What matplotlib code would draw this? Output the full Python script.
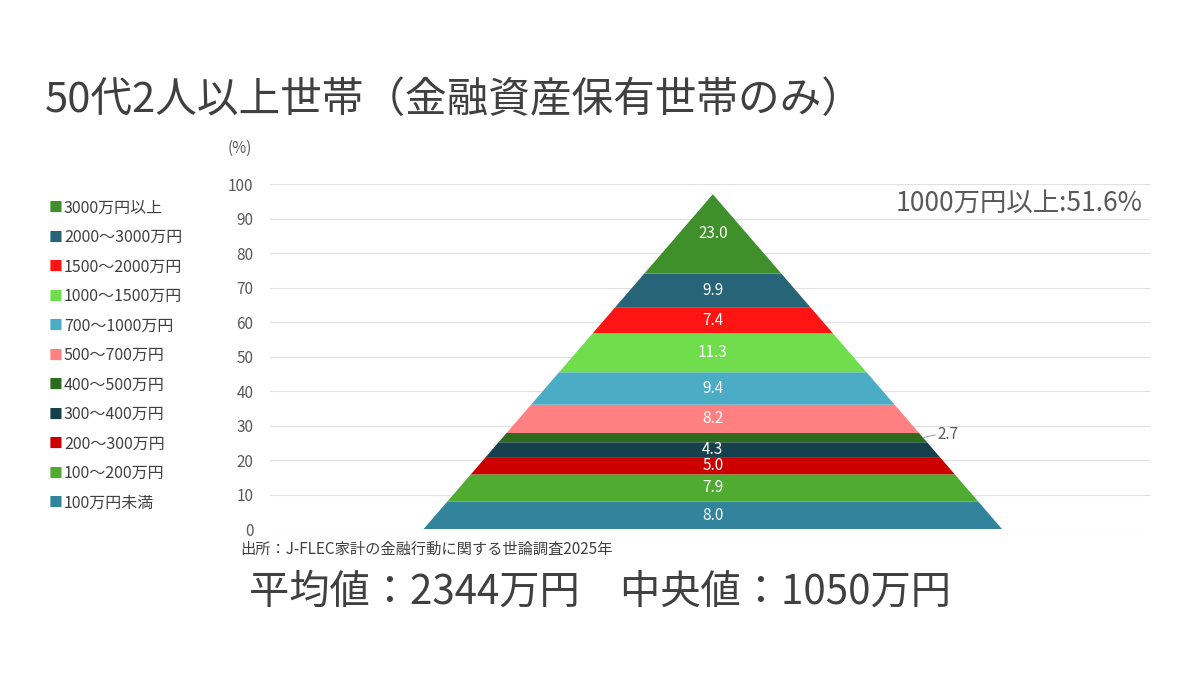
import matplotlib.pyplot as plt
import numpy as np

plt.rcParams['font.family'] = ['Noto Sans CJK JP', 'DejaVu Sans']

# bottom to top
categories = ['100万円未満', '100～200万円', '200～300万円', '300～400万円', '400～500万円',
              '500～700万円', '700～1000万円', '1000～1500万円', '1500～2000万円',
              '2000～3000万円', '3000万円以上']
values = [8.0, 7.9, 5.0, 4.3, 2.7, 8.2, 9.4, 11.3, 7.4, 9.9, 23.0]
colors = ['#31849b', '#4fac30', '#cc0000', '#17404d', '#2d6b1f', '#ff8080',
          '#4bacc6', '#70dd4c', '#ff1414', '#276477', '#3f8f2a']

fig = plt.figure(figsize=(12, 6.75), dpi=100)
ax = fig.add_axes([0.225, 0.216, 0.733, 0.511])

total = sum(values)
center, halfw = 443, 289.5
def hw(y):
    return halfw * (1 - y / total)

bottoms = np.concatenate([[0], np.cumsum(values)[:-1]])
for v, b, c in zip(values, bottoms, colors):
    t = b + v
    ax.fill([center - hw(b), center + hw(b), center + hw(t), center - hw(t)],
            [b, b, t, t], color=c, lw=0, zorder=2)
    if v < 3:
        ax.plot([center + hw(b + v / 2), center + hw(b + v / 2) + 12],
                [b + v / 2, b + v / 2 + 0.8], color='#aaaaaa', lw=0.8)
        ax.text(center + hw(b + v / 2) + 14, b + v / 2 + 0.8, f'{v:.1f}',
                color='#595959', fontsize=11, va='center')
    else:
        ax.text(center, b + v / 2, f'{v:.1f}', color='white', fontsize=11,
                ha='center', va='center', zorder=3)

ax.set_xlim(0, 880)
ax.set_ylim(0, 100)
ax.set_yticks(range(0, 101, 10))
ax.set_xticks([])
ax.tick_params(axis='y', length=0, labelsize=11, labelcolor='#595959', pad=12)
ax.grid(axis='y', color='#e0e0e0', lw=0.8, zorder=0)
ax.set_axisbelow(True)
for s in ax.spines.values():
    s.set_visible(False)

fig.text(45 / 1200, 1 - 100 / 675, '50代2人以上世帯（金融資産保有世帯のみ）',
         fontsize=30, color='#404040', va='center')
fig.text(228 / 1200, 1 - 148 / 675, '(%)', fontsize=11, color='#595959', va='center')
fig.text(1143 / 1200, 1 - 203 / 675, '1000万円以上:51.6%', fontsize=19,
         color='#595959', ha='right', va='center')
fig.text(240 / 1200, 1 - 549 / 675, '出所：J-FLEC家計の金融行動に関する世論調査2025年',
         fontsize=11, color='#404040', va='center')
fig.text(600 / 1200, 1 - 592 / 675, '平均値：2344万円　中央値：1050万円',
         fontsize=29, color='#404040', ha='center', va='center')

for i, (cat, c) in enumerate(zip(categories[::-1], colors[::-1])):
    y = 1 - (208 + i * 29.5) / 675
    fig.text(49 / 1200, y, '■', color=c, fontsize=10, va='center')
    fig.text(64 / 1200, y, cat, color='#404040', fontsize=11.5, va='center')

fig.savefig('out.png')
